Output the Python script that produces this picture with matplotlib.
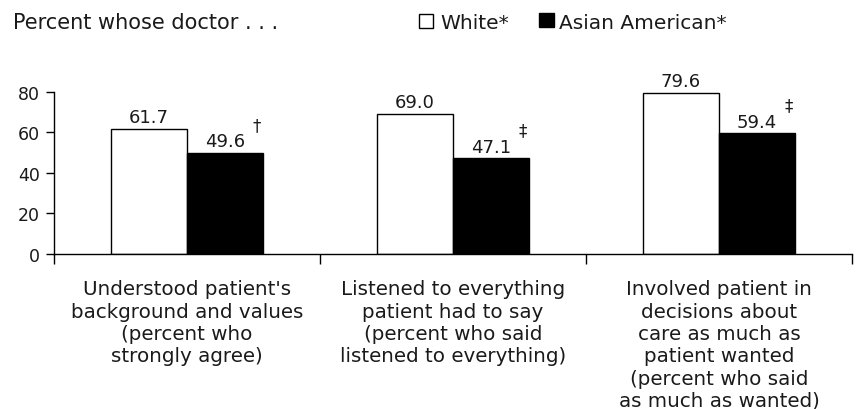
import matplotlib
matplotlib.use("Agg")
import matplotlib.pyplot as plt
from matplotlib.patches import Rectangle
import numpy as np

categories = [
    "Understood patient's\nbackground and values\n(percent who\nstrongly agree)",
    "Listened to everything\npatient had to say\n(percent who said\nlistened to everything)",
    "Involved patient in\ndecisions about\ncare as much as\npatient wanted\n(percent who said\nas much as wanted)",
]
white = [61.7, 69.0, 79.6]
asian = [49.6, 47.1, 59.4]
asian_marks = ["\u2020", "\u2021", "\u2021"]
series_names = ["White*", "Asian American*"]
yticks = [0, 20, 40, 60, 80]

plt.rcParams['font.family'] = ['DejaVu Sans']
W, H = 859, 410
fig = plt.figure(figsize=(W/100, H/100), dpi=100)
ax = fig.add_axes([54/W, 1 - 255/H, (852-54)/W, (255-92.7)/H])

tc = "#1a1a1a"
x = np.arange(len(categories))
w = 0.286
ax.bar(x - w/2, white, w, color="white", edgecolor="black", linewidth=1.0)
ax.bar(x + w/2, asian, w, color="black", edgecolor="black", linewidth=1.0)

vfs = 13
for xi, v in zip(x, white):
    ax.annotate(f"{v:.1f}", (xi - w/2, v), xytext=(0, 5), textcoords="offset points",
                ha="center", va="baseline", fontsize=vfs, color=tc, annotation_clip=False)
for xi, v, m in zip(x, asian, asian_marks):
    ax.annotate(f"{v:.1f}", (xi + w/2, v), xytext=(0, 5), textcoords="offset points",
                ha="center", va="baseline", fontsize=vfs, color=tc, annotation_clip=False)
    ax.annotate(m, (xi + w/2, v), xytext=(23, 17), textcoords="offset points",
                ha="center", va="baseline", fontsize=12, color=tc, annotation_clip=False)

ax.set_xlim(-0.5, len(categories) - 0.5)
ax.set_ylim(0, 80)
ax.set_yticks(yticks)
ax.set_yticklabels([str(t) for t in yticks], fontsize=12.5, color=tc)
ax.set_xticks(np.arange(len(categories) + 1) - 0.5)
ax.set_xticklabels([])
ax.tick_params(axis="x", direction="out", length=7, width=1.0)
ax.tick_params(axis="y", direction="out", length=6, width=1.0, pad=4)
for s in ["top", "right"]:
    ax.spines[s].set_visible(False)
for s in ["left", "bottom"]:
    ax.spines[s].set_linewidth(1.0)

for xi, lab in zip(x, categories):
    ax.text(xi, -12.5, lab, ha="center", va="top", fontsize=14.3, linespacing=1.22,
            color=tc, clip_on=False)

# header and legend
yb = 1 - 29/H
fig.text(13/W, yb, "Percent whose doctor . . .", fontsize=15, va="baseline", ha="left", color=tc)
fig.add_artist(Rectangle((419/W, 1 - 29/H), 14/W, 14/H, transform=fig.transFigure,
                         facecolor="white", edgecolor="black", linewidth=1.0))
fig.text(440/W, yb, series_names[0], fontsize=14.5, va="baseline", ha="left", color=tc)
fig.add_artist(Rectangle((539/W, 1 - 28/H), 15/W, 14/H, transform=fig.transFigure,
                         facecolor="black", edgecolor="black", linewidth=1.0))
fig.text(559/W, yb, series_names[1], fontsize=14.5, va="baseline", ha="left", color=tc)

fig.savefig("out.png", dpi=100)
